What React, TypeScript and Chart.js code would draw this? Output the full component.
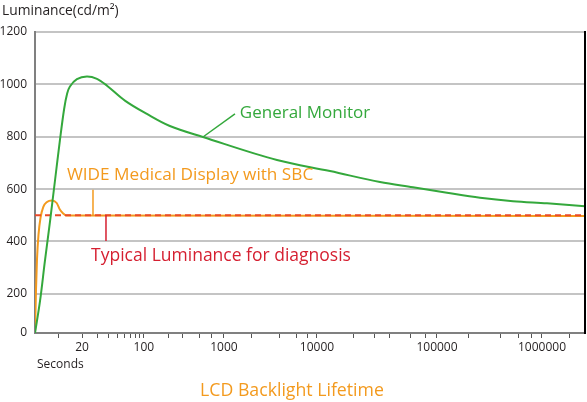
import React, { useEffect, useRef } from "react";
import { Chart, registerables, LinearScale, LogarithmicScale } from "chart.js";

// ---- data ----
const GREEN_SECONDS = [5, 5.8, 6.7, 7.8, 9.0, 10.4, 11.8, 12.9, 14, 17.2, 22.7, 29.5, 38.3, 61, 109, 211, 546, 3715, 12830, 33500, 63100, 124500, 257000, 529000, 1136000, 3000000];
const GREEN_LUMINANCE = [0, 164, 326, 479, 631, 784, 906, 965, 992, 1020, 1030, 1021, 995, 938, 887, 841, 799, 711, 669, 627, 607, 586, 567, 554, 546, 535];

const ORANGE_SECONDS = [5, 5.15, 5.3, 5.54, 5.88, 6.39, 7.12, 8.18, 9.48, 10.45, 11.5, 12.5, 3000000];
const ORANGE_LUMINANCE = [0, 215, 330, 425, 490, 532, 551, 557, 547, 521, 507, 499, 497];

const TARGET_SECONDS = [5, 3000000];
const TARGET_LUMINANCE = [500, 500];

const X_TICKS = [10, 20, 30, 40, 50, 60, 70, 80, 90, 100, 200, 300, 500, 700, 1000, 2000, 4000, 6000, 8000, 10000, 20000, 30000, 40000, 60000, 80000, 100000, 200000, 400000, 600000, 800000, 1000000, 2000000];
const X_LABELED = [20, 100, 1000, 10000, 100000, 1000000];
const Y_TICKS = [0, 200, 400, 600, 800, 1000, 1200];

// axis layout of the illustration (value -> fraction of axis length)
const X_STOPS = [[5, 0], [20, 0.0855], [100, 0.198], [1000, 0.3436], [10000, 0.5127], [100000, 0.7309], [1000000, 0.9218], [3000000, 1]];
const Y_STOPS = [[0, 0], [200, 0.13], [1200, 1]];

const GREEN = "#34a83c";
const ORANGE = "#f39a1e";
const RED = "#d51f30";
const DASH_RED = "#ea4a2a";
const TEXT = "#231f20";
const FONT = "'Open Sans', 'Noto Sans', sans-serif";

const ANNOTATIONS = [
  { text: "General Monitor", color: GREEN, size: 17, from: [546, 799], to: [1313, 887], at: [1480, 870] },
  { text: "WIDE Medical Display with SBC", color: ORANGE, size: 17.2, from: [26.6, 500], to: [26.6, 598], at: [12.8, 635] },
  { text: "Typical Luminance for diagnosis", color: RED, size: 17.5, from: [37.3, 500], to: [37.3, 402], at: [25.3, 326] },
];

function mapStops(v: number, stops: number[][]) {
  let i = 0;
  while (i < stops.length - 2 && v > stops[i + 1][0]) i++;
  const [v0, f0] = stops[i];
  const [v1, f1] = stops[i + 1];
  return f0 + ((v - v0) / (v1 - v0)) * (f1 - f0);
}
function unmapStops(f: number, stops: number[][]) {
  let i = 0;
  while (i < stops.length - 2 && f > stops[i + 1][1]) i++;
  const [v0, f0] = stops[i];
  const [v1, f1] = stops[i + 1];
  return v0 + ((f - f0) / (f1 - f0)) * (v1 - v0);
}
const X_LOG_STOPS = X_STOPS.map(([v, f]) => [Math.log10(v), f]);

class SegmentedLogScale extends LogarithmicScale {
  static id = "segmentedLog";
  static defaults = LogarithmicScale.defaults;
  getPixelForValue(value: any) {
    if (value === null || value === undefined || isNaN(value)) return NaN;
    return this.getPixelForDecimal(mapStops(Math.log10(value), X_LOG_STOPS));
  }
  getValueForPixel(pixel: number) {
    return Math.pow(10, unmapStops(this.getDecimalForPixel(pixel), X_LOG_STOPS));
  }
}

class SegmentedLinearScale extends LinearScale {
  static id = "segmentedLinear";
  static defaults = LinearScale.defaults;
  getPixelForValue(value: any) {
    if (value === null || value === undefined || isNaN(value)) return NaN;
    return this.getPixelForDecimal(mapStops(value, Y_STOPS));
  }
  getValueForPixel(pixel: number) {
    return unmapStops(this.getDecimalForPixel(pixel), Y_STOPS);
  }
}

Chart.register(...registerables, SegmentedLogScale, SegmentedLinearScale);

const pts = (xs: number[], ys: number[]) => xs.map((x, i) => ({ x, y: ys[i] }));

const decorPlugin = {
  id: "decor",
  afterDatasetsDraw(chart: any) {
    const { ctx, scales, chartArea } = chart;
    const xs = scales.x, ys = scales.y;
    ctx.save();
    for (const a of ANNOTATIONS) {
      ctx.strokeStyle = a.color;
      ctx.lineWidth = 1.5;
      ctx.beginPath();
      ctx.moveTo(xs.getPixelForValue(a.from[0]), ys.getPixelForValue(a.from[1]));
      ctx.lineTo(xs.getPixelForValue(a.to[0]), ys.getPixelForValue(a.to[1]));
      ctx.stroke();
      ctx.fillStyle = a.color;
      ctx.font = `${a.size}px ${FONT}`;
      ctx.textAlign = "left";
      ctx.textBaseline = "alphabetic";
      ctx.fillText(a.text, xs.getPixelForValue(a.at[0]), ys.getPixelForValue(a.at[1]));
    }
    // right frame line
    ctx.strokeStyle = "#000";
    ctx.lineWidth = 2;
    ctx.beginPath();
    ctx.moveTo(chartArea.right, chartArea.top - 1);
    ctx.lineTo(chartArea.right, chartArea.bottom + 1);
    ctx.stroke();
    ctx.restore();
  },
  afterDraw(chart: any) {
    const { ctx, chartArea } = chart;
    ctx.save();
    ctx.textBaseline = "alphabetic";
    ctx.fillStyle = TEXT;
    ctx.textAlign = "left";
    ctx.font = `13.8px ${FONT}`;
    ctx.fillText("Luminance(cd/m²)", 2, 15);
    ctx.font = `12px ${FONT}`;
    ctx.fillText("Seconds", chartArea.left + 2, 368);
    ctx.fillStyle = ORANGE;
    ctx.textAlign = "center";
    ctx.font = `17.7px ${FONT}`;
    ctx.fillText("LCD Backlight Lifetime", 292, 396);
    ctx.restore();
  },
};

export default function App() {
  const ref = useRef<HTMLCanvasElement>(null);
  useEffect(() => {
    if (!ref.current) return;
    const chart = new Chart(ref.current, {
      type: "line",
      data: {
        datasets: [
          { label: "General Monitor", data: pts(GREEN_SECONDS, GREEN_LUMINANCE), borderColor: GREEN, borderWidth: 2, pointRadius: 0, tension: 0.35, fill: false },
          { label: "Typical Luminance for diagnosis", data: pts(TARGET_SECONDS, TARGET_LUMINANCE), borderColor: DASH_RED, borderWidth: 2, borderDash: [6, 4], pointRadius: 0, fill: false },
          { label: "WIDE Medical Display with SBC", data: pts(ORANGE_SECONDS, ORANGE_LUMINANCE), borderColor: ORANGE, borderWidth: 2, pointRadius: 0, cubicInterpolationMode: "monotone", fill: false },
        ],
      },
      options: {
        animation: false,
        responsive: false,
        events: [],
        layout: { padding: { top: 32, right: 2, left: 0, bottom: 0 } },
        plugins: { legend: { display: false }, tooltip: { enabled: false }, title: { display: false } },
        scales: {
          x: {
            type: "segmentedLog" as any,
            min: 5,
            max: 3000000,
            afterBuildTicks: (s: any) => { s.ticks = X_TICKS.map((v) => ({ value: v })); },
            afterFit: (s: any) => { s.height = 69; },
            ticks: {
              autoSkip: false,
              maxRotation: 0,
              padding: 2,
              color: TEXT,
              font: { family: FONT, size: 12 },
              callback: (v: any) => (X_LABELED.includes(Number(v)) ? String(v) : ""),
            },
            grid: { drawOnChartArea: false, drawTicks: true, tickLength: 5, tickColor: "#555", tickWidth: 1 },
            border: { display: true, color: "#808080", width: 2 },
          },
          y: {
            type: "segmentedLinear" as any,
            min: 0,
            max: 1200,
            afterBuildTicks: (s: any) => { s.ticks = Y_TICKS.map((v) => ({ value: v })); },
            afterFit: (s: any) => { s.width = 35; },
            ticks: { padding: 8, color: TEXT, font: { family: FONT, size: 12 }, callback: (v: any) => String(v) },
            grid: { color: "#c4c4c4", lineWidth: 2, drawTicks: false },
            border: { display: true, color: "#808080", width: 2 },
          },
        },
      },
      plugins: [decorPlugin],
    } as any);
    return () => chart.destroy();
  }, []);
  return (
    <div style={{ position: "absolute", left: 0, top: 0, width: 587, height: 402, background: "#fff" }}>
      <canvas ref={ref} width={587} height={402} style={{ display: "block" }} />
    </div>
  );
}
